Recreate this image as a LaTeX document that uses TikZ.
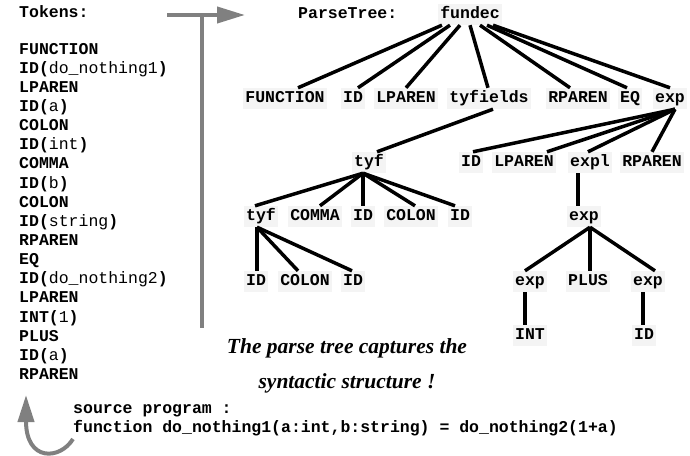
\documentclass[tikz,border=0pt]{standalone}
\usepackage{fontspec}
\usetikzlibrary{arrows.meta,calc}
\newfontfamily\monof{Liberation Mono}
\newfontfamily\seriff{Liberation Serif}
\definecolor{boxgray}{RGB}{244,244,244}
\definecolor{arrowgray}{RGB}{128,128,128}
\tikzset{
  lbl/.style={font=\monof\bfseries\fontsize{16.5}{16.5}\selectfont, fill=boxgray,
    inner xsep=2pt, inner ysep=4pt, text height=10pt, text depth=3pt, anchor=base},
  tok/.style={font=\monof\bfseries\fontsize{16.5}{16.5}\selectfont, anchor=base west, inner sep=0pt},
  capt/.style={font=\seriff\bfseries\itshape\fontsize{21.5}{21.5}\selectfont, anchor=base, inner sep=0pt},
  treeline/.style={line width=3.5pt, black},
  garrow/.style={draw=arrowgray, line width=4pt}
}
\newcommand{\lnk}[4]{\draw[treeline] ($(#1.south)+(#2,0)$) -- ($(#3.north)+(#4,0)$);}
\begin{document}
\begin{tikzpicture}[x=1pt,y=-1pt]
\useasboundingbox (0,0) rectangle (690,455);
% token list
\node[tok] (tk0) at (19,17) {Tokens:};
\node[tok] (tk1) at (19,54) {FUNCTION};
\node[tok] (tk2) at (19,73.15) {ID({\mdseries do\_nothing1})};
\node[tok] (tk3) at (19,92.3) {LPAREN};
\node[tok] (tk4) at (19,111.45) {ID({\mdseries a})};
\node[tok] (tk5) at (19,130.6) {COLON};
\node[tok] (tk6) at (19,149.75) {ID({\mdseries int})};
\node[tok] (tk7) at (19,168.9) {COMMA};
\node[tok] (tk8) at (19,188.05) {ID({\mdseries b})};
\node[tok] (tk9) at (19,207.2) {COLON};
\node[tok] (tk10) at (19,226.35) {ID({\mdseries string})};
\node[tok] (tk11) at (19,245.5) {RPAREN};
\node[tok] (tk12) at (19,264.65) {EQ};
\node[tok] (tk13) at (19,283.8) {ID({\mdseries do\_nothing2})};
\node[tok] (tk14) at (19,302.95) {LPAREN};
\node[tok] (tk15) at (19,322.1) {INT({\mdseries 1})};
\node[tok] (tk16) at (19,341.25) {PLUS};
\node[tok] (tk17) at (19,360.4) {ID({\mdseries a})};
\node[tok] (tk18) at (19,379.55) {RPAREN};
% gray arrows
\coordinate (ha) at (167,15);
\coordinate (hb) at (245,15);
\coordinate (va) at (202,15);
\coordinate (vb) at (202,328);
\draw[garrow, -{Triangle[length=28pt,width=16pt]}] (ha) -- (hb);
\draw[garrow] (va) -- (vb);
\coordinate (ca) at (73,439);
\coordinate (cb) at (26,395);
\draw[garrow, -{Triangle[length=27pt,width=16pt]}] (ca) .. controls (60,460) and (26,462) .. (cb);
% source program
\node[tok] (src1) at (73,413) {source program :};
\node[tok] (src2) at (73,432) {function do\_nothing1(a:int,b:string) = do\_nothing2(1+a)};
% caption
\node[capt] (cap1) at (347,353) {The parse tree captures the};
\node[capt] (cap2) at (347,388) {syntactic structure !};
% parse tree
\node[tok] (pt) at (298,18) {ParseTree:};
\node[lbl] (fundec) at (470,18) {fundec};
\node[lbl] (a1) at (285,102) {FUNCTION};
\node[lbl] (a2) at (353,102) {ID};
\node[lbl] (a3) at (406,102) {LPAREN};
\node[lbl] (a4) at (489,102) {tyfields};
\node[lbl] (a5) at (578,102) {RPAREN};
\node[lbl] (a6) at (630,102) {EQ};
\node[lbl] (a7) at (670,102) {exp};
\node[lbl] (b1) at (369,166) {tyf};
\node[lbl] (b2) at (471,166) {ID};
\node[lbl] (b3) at (524,166) {LPAREN};
\node[lbl] (b4) at (590,166) {expl};
\node[lbl] (b5) at (652,166) {RPAREN};
\node[lbl] (c1) at (261,220) {tyf};
\node[lbl] (c2) at (315,220) {COMMA};
\node[lbl] (c3) at (363,220) {ID};
\node[lbl] (c4) at (411,220) {COLON};
\node[lbl] (c5) at (460,220) {ID};
\node[lbl] (c6) at (584,220) {exp};
\node[lbl] (d1) at (256,285) {ID};
\node[lbl] (d2) at (305,285) {COLON};
\node[lbl] (d3) at (353,285) {ID};
\node[lbl] (d4) at (530,285) {exp};
\node[lbl] (d5) at (588,285) {PLUS};
\node[lbl] (d6) at (648,285) {exp};
\node[lbl] (e1) at (530,339) {INT};
\node[lbl] (e2) at (644,339) {ID};
% edges
\lnk{fundec}{-28}{a1}{13}
\lnk{fundec}{-20}{a2}{5}
\lnk{fundec}{-10}{a3}{0}
\lnk{fundec}{0}{a4}{-1}
\lnk{fundec}{10}{a5}{-8}
\lnk{fundec}{17}{a6}{-3}
\lnk{fundec}{23}{a7}{0}
\lnk{a4}{4}{b1}{8}
\lnk{a7}{5}{b2}{2}
\lnk{a7}{5}{b3}{23}
\lnk{a7}{5}{b4}{-2}
\lnk{a7}{5}{b5}{0}
\lnk{b1}{-6}{c1}{-6}
\lnk{b1}{-6}{c2}{5}
\lnk{b1}{-6}{c3}{0}
\lnk{b1}{-6}{c4}{4}
\lnk{b1}{-6}{c5}{-5}
\lnk{b4}{-12}{c6}{-6}
\lnk{c1}{-4}{d1}{1}
\lnk{c1}{-4}{d2}{-7}
\lnk{c1}{-4}{d3}{-1}
\lnk{c6}{6}{d4}{-5}
\lnk{c6}{6}{d5}{2}
\lnk{c6}{6}{d6}{7}
\lnk{d4}{-5}{e1}{-5}
\lnk{d6}{-5}{e2}{-1}
\end{tikzpicture}
\end{document}
